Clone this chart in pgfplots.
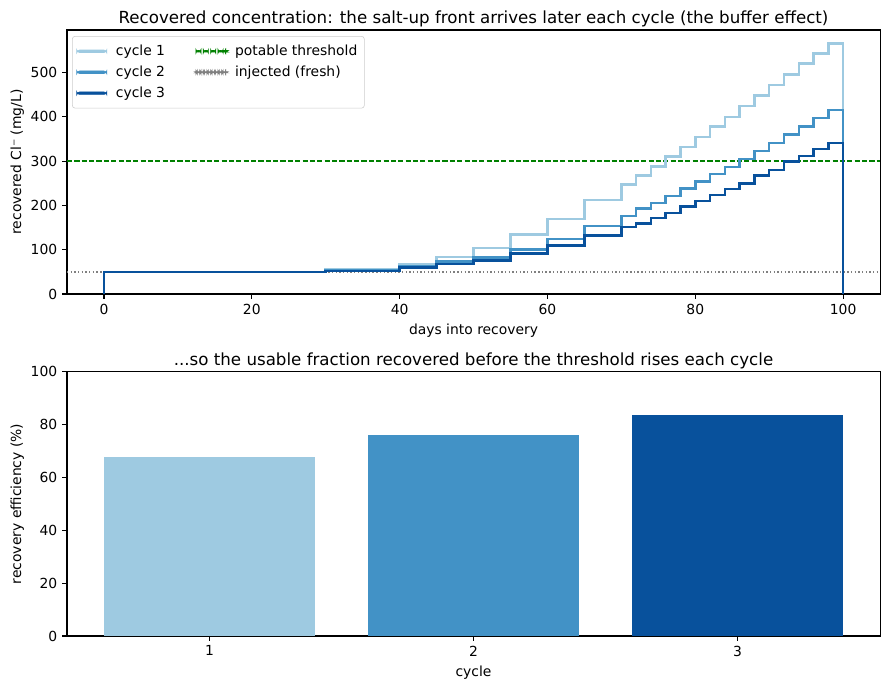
\documentclass[border=0pt]{standalone}
\usepackage{fontspec}
\setmainfont{DejaVu Sans}
\usepackage{pgfplots}
\pgfplotsset{compat=1.18}

\definecolor{c1}{HTML}{9ECAE1}
\definecolor{c2}{HTML}{4292C6}
\definecolor{c3}{HTML}{08519C}
\definecolor{thr}{HTML}{008000}
\definecolor{inj}{HTML}{808080}

\pgfplotsset{
  mpl/.style={
    scale only axis, width=585.4pt, height=190.1pt,
    axis line style={line width=0.8pt},
    every tick/.style={line width=0.8pt, black},
    tick align=outside, major tick length=3.5pt,
    xtick pos=bottom, ytick pos=left,
    /pgf/number format/assume math mode=true,
    tick label style={font=\fontsize{10}{12}\selectfont},
    label style={font=\fontsize{10}{12}\selectfont},
    title style={font=\fontsize{12}{14}\selectfont, yshift=-7.4pt},
  }
}

\begin{document}
\begin{tikzpicture}
\useasboundingbox (0,0) rectangle (640.08pt,496.8pt);
\begin{axis}[mpl,
  at={(48.24pt,285.1pt)}, anchor=south west,
  xmin=-5, xmax=105, ymin=0, ymax=596,
  xtick={0,20,40,60,80,100}, ytick={0,100,200,300,400,500},
  xlabel={days into recovery},
  ylabel={recovered Cl⁻ (mg/L)},
  ylabel style={yshift=-2pt},
  title={Recovered concentration: the salt-up front arrives later each cycle (the buffer effect)},
  legend columns=2,
  legend cell align=left,
  legend style={at={(0.0062,0.977)}, anchor=north west,
    draw=black!20, rounded corners=2pt, fill=white,
    font=\fontsize{10}{12}\selectfont, inner xsep=3pt, inner ysep=4.2pt,
    /tikz/every even column/.append style={column sep=20pt},
    row sep=2pt},
]
\addplot[thr, line width=1pt, dash pattern=on 3.7pt off 1.6pt, forget plot] coordinates {(-5,300) (105,300)};
\addplot[inj, line width=1pt, dash pattern=on 1pt off 1.65pt, forget plot] coordinates {(-5,50) (105,50)};
\addplot[c1, line width=1.8pt, const plot mark left, forget plot] coordinates {
(0,0) (0,50) (30,56) (40,67) (45,83) (50,104) (55,134) (60,169) (65,212) (70,247) (72,267) (74,288) (76,310) (78,332) (80,355) (82,378) (84,400) (86,424) (88,448) (90,472) (92,495) (94,520) (96,543) (98,565) (100,565) (100,0)};
\addplot[c2, line width=1.8pt, const plot mark left, forget plot] coordinates {
(0,0) (0,50) (30,54) (40,63) (45,73) (50,82) (55,100) (60,124) (65,154) (70,176) (72,193) (74,206) (76,221) (78,238) (80,254) (82,271) (84,287) (86,305) (88,323) (90,341) (92,360) (94,378) (96,397) (98,415) (100,415) (100,0)};
\addplot[c3, line width=1.8pt, const plot mark left, forget plot] coordinates {
(0,0) (0,50) (30,52) (40,60) (45,68) (50,76) (55,91) (60,110) (65,132) (70,151) (72,159) (74,172) (76,183) (78,197) (80,210) (82,224) (84,237) (86,250) (88,267) (90,280) (92,299) (94,312) (96,327) (98,341) (100,341) (100,0)};
\addlegendimage{legend image code/.code={\fill[c1] (0pt,-0.9pt) rectangle (21.6pt,0.9pt); \path (26pt,0pt);}}\addlegendentry{cycle 1}
\addlegendimage{legend image code/.code={\fill[thr] (0pt,-0.55pt) rectangle (3.7pt,0.55pt) (5.3pt,-0.55pt) rectangle (9pt,0.55pt) (10.6pt,-0.55pt) rectangle (14.3pt,0.55pt) (15.9pt,-0.55pt) rectangle (19.6pt,0.55pt) (21.2pt,-0.55pt) rectangle (21.6pt,0.55pt); \path (26pt,0pt);}}\addlegendentry{potable threshold}
\addlegendimage{legend image code/.code={\fill[c2] (0pt,-0.9pt) rectangle (21.6pt,0.9pt); \path (26pt,0pt);}}\addlegendentry{cycle 2}
\addlegendimage{legend image code/.code={\fill[inj] (0pt,-0.5pt) rectangle (1pt,0.5pt) (2.65pt,-0.5pt) rectangle (3.65pt,0.5pt) (5.3pt,-0.5pt) rectangle (6.3pt,0.5pt) (7.95pt,-0.5pt) rectangle (8.95pt,0.5pt) (10.6pt,-0.5pt) rectangle (11.6pt,0.5pt) (13.25pt,-0.5pt) rectangle (14.25pt,0.5pt) (15.9pt,-0.5pt) rectangle (16.9pt,0.5pt) (18.55pt,-0.5pt) rectangle (19.55pt,0.5pt) (21.2pt,-0.5pt) rectangle (21.6pt,0.5pt); \path (26pt,0pt);}}\addlegendentry{injected (fresh)}
\addlegendimage{legend image code/.code={\fill[c3] (0pt,-0.9pt) rectangle (21.6pt,0.9pt); \path (26pt,0pt);}}\addlegendentry{cycle 3}
\end{axis}

\begin{axis}[mpl,
  at={(48.24pt,38.9pt)}, anchor=south west,
  xmin=0.46, xmax=3.54, ymin=0, ymax=100,
  xtick={1,2,3}, ytick={0,20,40,60,80,100},
  xlabel={cycle},
  ylabel={recovery efficiency (\%)},
  ylabel style={yshift=-2pt},
  title={...so the usable fraction recovered before the threshold rises each cycle},
]
\addplot[ybar, bar width=0.8, /pgf/bar shift=0pt, fill=c1, draw=none] coordinates {(1,67.6)};
\addplot[ybar, bar width=0.8, /pgf/bar shift=0pt, fill=c2, draw=none] coordinates {(2,76.3)};
\addplot[ybar, bar width=0.8, /pgf/bar shift=0pt, fill=c3, draw=none] coordinates {(3,83.6)};
\end{axis}
\end{tikzpicture}
\end{document}
